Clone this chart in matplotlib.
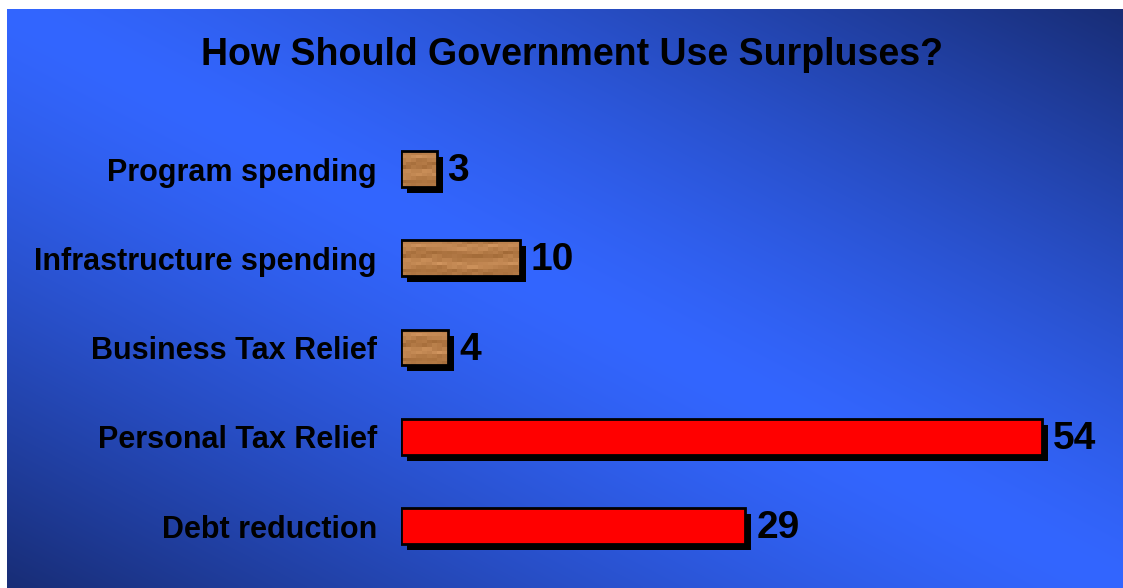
import numpy as np
import matplotlib
matplotlib.use('Agg')
import matplotlib.pyplot as plt
from matplotlib.transforms import ScaledTranslation

plt.rcParams['font.family'] = ['Liberation Sans', 'DejaVu Sans']

# survey results, top to bottom
categories = ['Program spending', 'Infrastructure spending', 'Business Tax Relief',
              'Personal Tax Relief', 'Debt reduction']
values = [3, 10, 4, 54, 29]
wood = [True, True, True, False, False]

W, H, DPI = 1123, 588, 100
fig = plt.figure(figsize=(W / DPI, H / DPI), dpi=DPI)
fig.patch.set_facecolor('white')

# blue diagonal gradient backdrop
bg = fig.add_axes([7 / W, 0, 1 - 7 / W, 579 / H])
bg.set_axis_off()
gx, gy = np.meshgrid(np.linspace(0, 1, 400), np.linspace(0, 1, 200))
t = np.abs(gx - gy)
s = np.clip(t, 0, 1) ** 1.3
light = np.array([51, 102, 255]) / 255
dark = np.array([24, 45, 118]) / 255
grad = light[None, None, :] * (1 - s[..., None]) + dark[None, None, :] * s[..., None]
bg.imshow(grad, aspect='auto', extent=[0, 1, 1, 0], interpolation='bilinear')
bg.set_xlim(0, 1)
bg.set_ylim(1, 0)

# bar area: x=0 sits at pixel 401, 54 units reach pixel 1042
px_per_unit = (1042 - 401) / 54
row_px = 89.25
top_px = 169
ax = fig.add_axes([401 / W, 0, (W - 401) / W, 579 / H])
ax.patch.set_alpha(0)
for sp in ax.spines.values():
    sp.set_visible(False)

y = np.arange(len(categories))
bh = 0.40

shadow = ax.transData + ScaledTranslation(6 / DPI, -6 / DPI, fig.dpi_scale_trans)
ax.barh(y, values, height=bh, color='black', transform=shadow, zorder=1)

bars = ax.barh(y, values, height=bh, color=['none' if w else '#ff0000' for w in wood],
               edgecolor='black', linewidth=2.0, zorder=3)

# wood grain texture for the small bars: horizontal streaks with blotches
ty, tx = np.mgrid[0:10, 0:28]
grain = (0.55 + 0.22 * np.sin(ty * 1.3 + 0.6 * np.sin(tx * 0.35))
         + 0.14 * np.sin(ty * 2.9 + tx * 0.45) * np.cos(tx * 0.9)
         + 0.06 * np.cos(tx * 1.7 + ty * 2.2))
grain = np.clip(grain, 0, 1)
wood_lo = np.array([150, 95, 45]) / 255
wood_hi = np.array([212, 152, 98]) / 255
tex = wood_lo[None, None, :] + (wood_hi - wood_lo)[None, None, :] * grain[..., None]
for b, w, yi in zip(bars, wood, y):
    if not w:
        continue
    im = ax.imshow(tex, extent=[0, 12, yi + bh / 2, yi - bh / 2],
                   aspect='auto', interpolation='nearest', zorder=2)
    im.set_clip_path(b)

ax.set_xlim(0, (W - 401) / px_per_unit)
ax.set_ylim((588 - top_px) / row_px, (9 - top_px) / row_px)

for yi, v in zip(y, values):
    ax.annotate(str(v), xy=(v, yi), xytext=(11 * 72 / DPI, -2 * 72 / DPI),
                textcoords='offset points', ha='left', va='center',
                fontsize=28, fontweight='bold', color='black', zorder=4)

ax.set_xticks([])
ax.set_yticks(y)
ax.set_yticklabels(categories, fontsize=22, fontweight='bold')
ax.tick_params(axis='y', length=0, pad=24 * 72 / DPI)

fig.text(572 / W, 1 - 55 / H, 'How Should Government Use Surpluses?',
         ha='center', va='center', fontsize=27, fontweight='bold')

fig.savefig('out.png', dpi=DPI)
